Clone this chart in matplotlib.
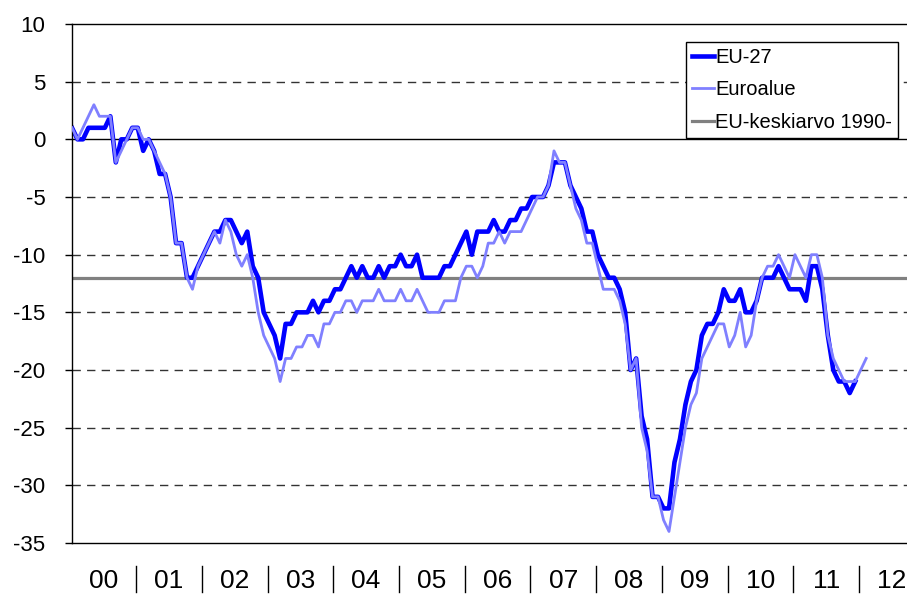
import matplotlib
matplotlib.use('Agg')
import matplotlib.pyplot as plt
import matplotlib.transforms as mtransforms

# ---- data (monthly, Jan 2000 ->) ----
eu27 = [1, 0, 0, 1, 1, 1, 1, 2, -2, 0, 0, 1,
        1, -1, 0, -1, -3, -3, -5, -9, -9, -12, -12, -11,
        -10, -9, -8, -8, -7, -7, -8, -9, -8, -11, -12, -15,
        -16, -17, -19, -16, -16, -15, -15, -15, -14, -15, -14, -14,
        -13, -13, -12, -11, -12, -11, -12, -12, -11, -12, -11, -11,
        -10, -11, -11, -10, -12, -12, -12, -12, -11, -11, -10, -9,
        -8, -10, -8, -8, -8, -7, -8, -8, -7, -7, -6, -6,
        -5, -5, -5, -4, -2, -2, -2, -4, -5, -6, -8, -8,
        -10, -11, -12, -12, -13, -15, -20, -19, -24, -26, -31, -31,
        -32, -32, -28, -26, -23, -21, -20, -17, -16, -16, -15, -13,
        -14, -14, -13, -15, -15, -14, -12, -12, -12, -11, -12, -13,
        -13, -13, -14, -11, -11, -13, -17, -20, -21, -21, -22, -21]

euroalue = [1, 0, 1, 2, 3, 2, 2, 2, -2, -1, 0, 1,
            1, 0, 0, -1, -2, -3, -5, -9, -9, -12, -13, -11,
            -10, -9, -8, -9, -7, -8, -10, -11, -10, -12, -15, -17,
            -18, -19, -21, -19, -19, -18, -18, -17, -17, -18, -16, -16,
            -15, -15, -14, -14, -15, -14, -14, -14, -13, -14, -14, -14,
            -13, -14, -14, -13, -14, -15, -15, -15, -14, -14, -14, -12,
            -11, -11, -12, -11, -9, -9, -8, -9, -8, -8, -8, -7,
            -6, -5, -5, -4, -1, -2, -2, -4, -6, -7, -9, -9,
            -11, -13, -13, -13, -14, -16, -20, -19, -25, -27, -31, -31,
            -33, -34, -31, -28, -25, -23, -22, -19, -18, -17, -16, -16,
            -18, -17, -15, -18, -17, -14, -12, -11, -11, -10, -11, -12,
            -10, -11, -12, -10, -10, -12, -17, -19, -20, -21, -21, -21,
            -20, -19]

eu_average = -12

year_labels = ['00', '01', '02', '03', '04', '05', '06', '07', '08', '09', '10', '11', '12']
y_ticks = [10, 5, 0, -5, -10, -15, -20, -25, -30, -35]
dashed_levels = [5, -5, -10, -15, -20, -25, -30]
series_names = ['EU-27', 'Euroalue', 'EU-keskiarvo 1990-']

# ---- figure ----
W, H = 907, 595
fig = plt.figure(figsize=(W / 100, H / 100), dpi=100)
n_months = 12 * len(year_labels)
left_px, top_px, bottom_px = 72, 24, 543
px_per_month = 5.477
ax = fig.add_axes([left_px / W, (H - bottom_px) / H,
                   n_months * px_per_month / W, (bottom_px - top_px) / H])

ax.set_xlim(0, n_months)
ax.set_ylim(-35, 10)

for v in dashed_levels:
    ax.axhline(v, color='#333333', lw=1.0, ls=(0, (6, 4.5)), zorder=0.5)
ax.axhline(0, color='black', lw=1.0, zorder=0.6)

gray = ax.axhline(eu_average, color='#808080', lw=2.3, zorder=1.5, label=series_names[2])
l1, = ax.plot(range(len(eu27)), eu27, color='#0000FF', lw=3.3,
              solid_joinstyle='round', zorder=2, label=series_names[0])
l2, = ax.plot(range(len(euroalue)), euroalue, color='#8080FF', lw=2.0,
              solid_joinstyle='round', zorder=3, label=series_names[1])

for s in ['left', 'bottom', 'top']:
    ax.spines[s].set_color('black')
    ax.spines[s].set_linewidth(1.0)
ax.spines['right'].set_visible(False)

ax.set_yticks(y_ticks)
ax.set_yticklabels([str(t) for t in y_ticks], fontsize=16, family='Liberation Sans')
ax.tick_params(axis='y', length=5, width=1, direction='out', pad=14)
ax.set_xticks([])

trans = mtransforms.blended_transform_factory(ax.transData, fig.transFigure)
for i, lab in enumerate(year_labels):
    ax.text(12 * i + 5.7, 1 - 581 / H, lab, transform=trans, ha='center', va='center',
            fontsize=19, family='Liberation Sans', clip_on=False)
    if i > 0:
        ax.plot([12 * i - 0.3, 12 * i - 0.3], [1 - 566 / H, 1 - 592 / H], transform=trans,
                color='black', lw=1.0, clip_on=False)

leg = ax.legend(handles=[l1, l2, gray], labels=series_names, loc='upper right',
                bbox_to_anchor=(898 / W, 1 - 42 / H), bbox_transform=fig.transFigure,
                borderaxespad=0, prop={'family': 'Liberation Sans', 'size': 14.5},
                frameon=True, fancybox=False, edgecolor='black', framealpha=1,
                handlelength=1.1, handletextpad=0.05, labelspacing=0.66, borderpad=0.3)
leg.get_frame().set_linewidth(1.0)

fig.savefig('out.png', dpi=100)
